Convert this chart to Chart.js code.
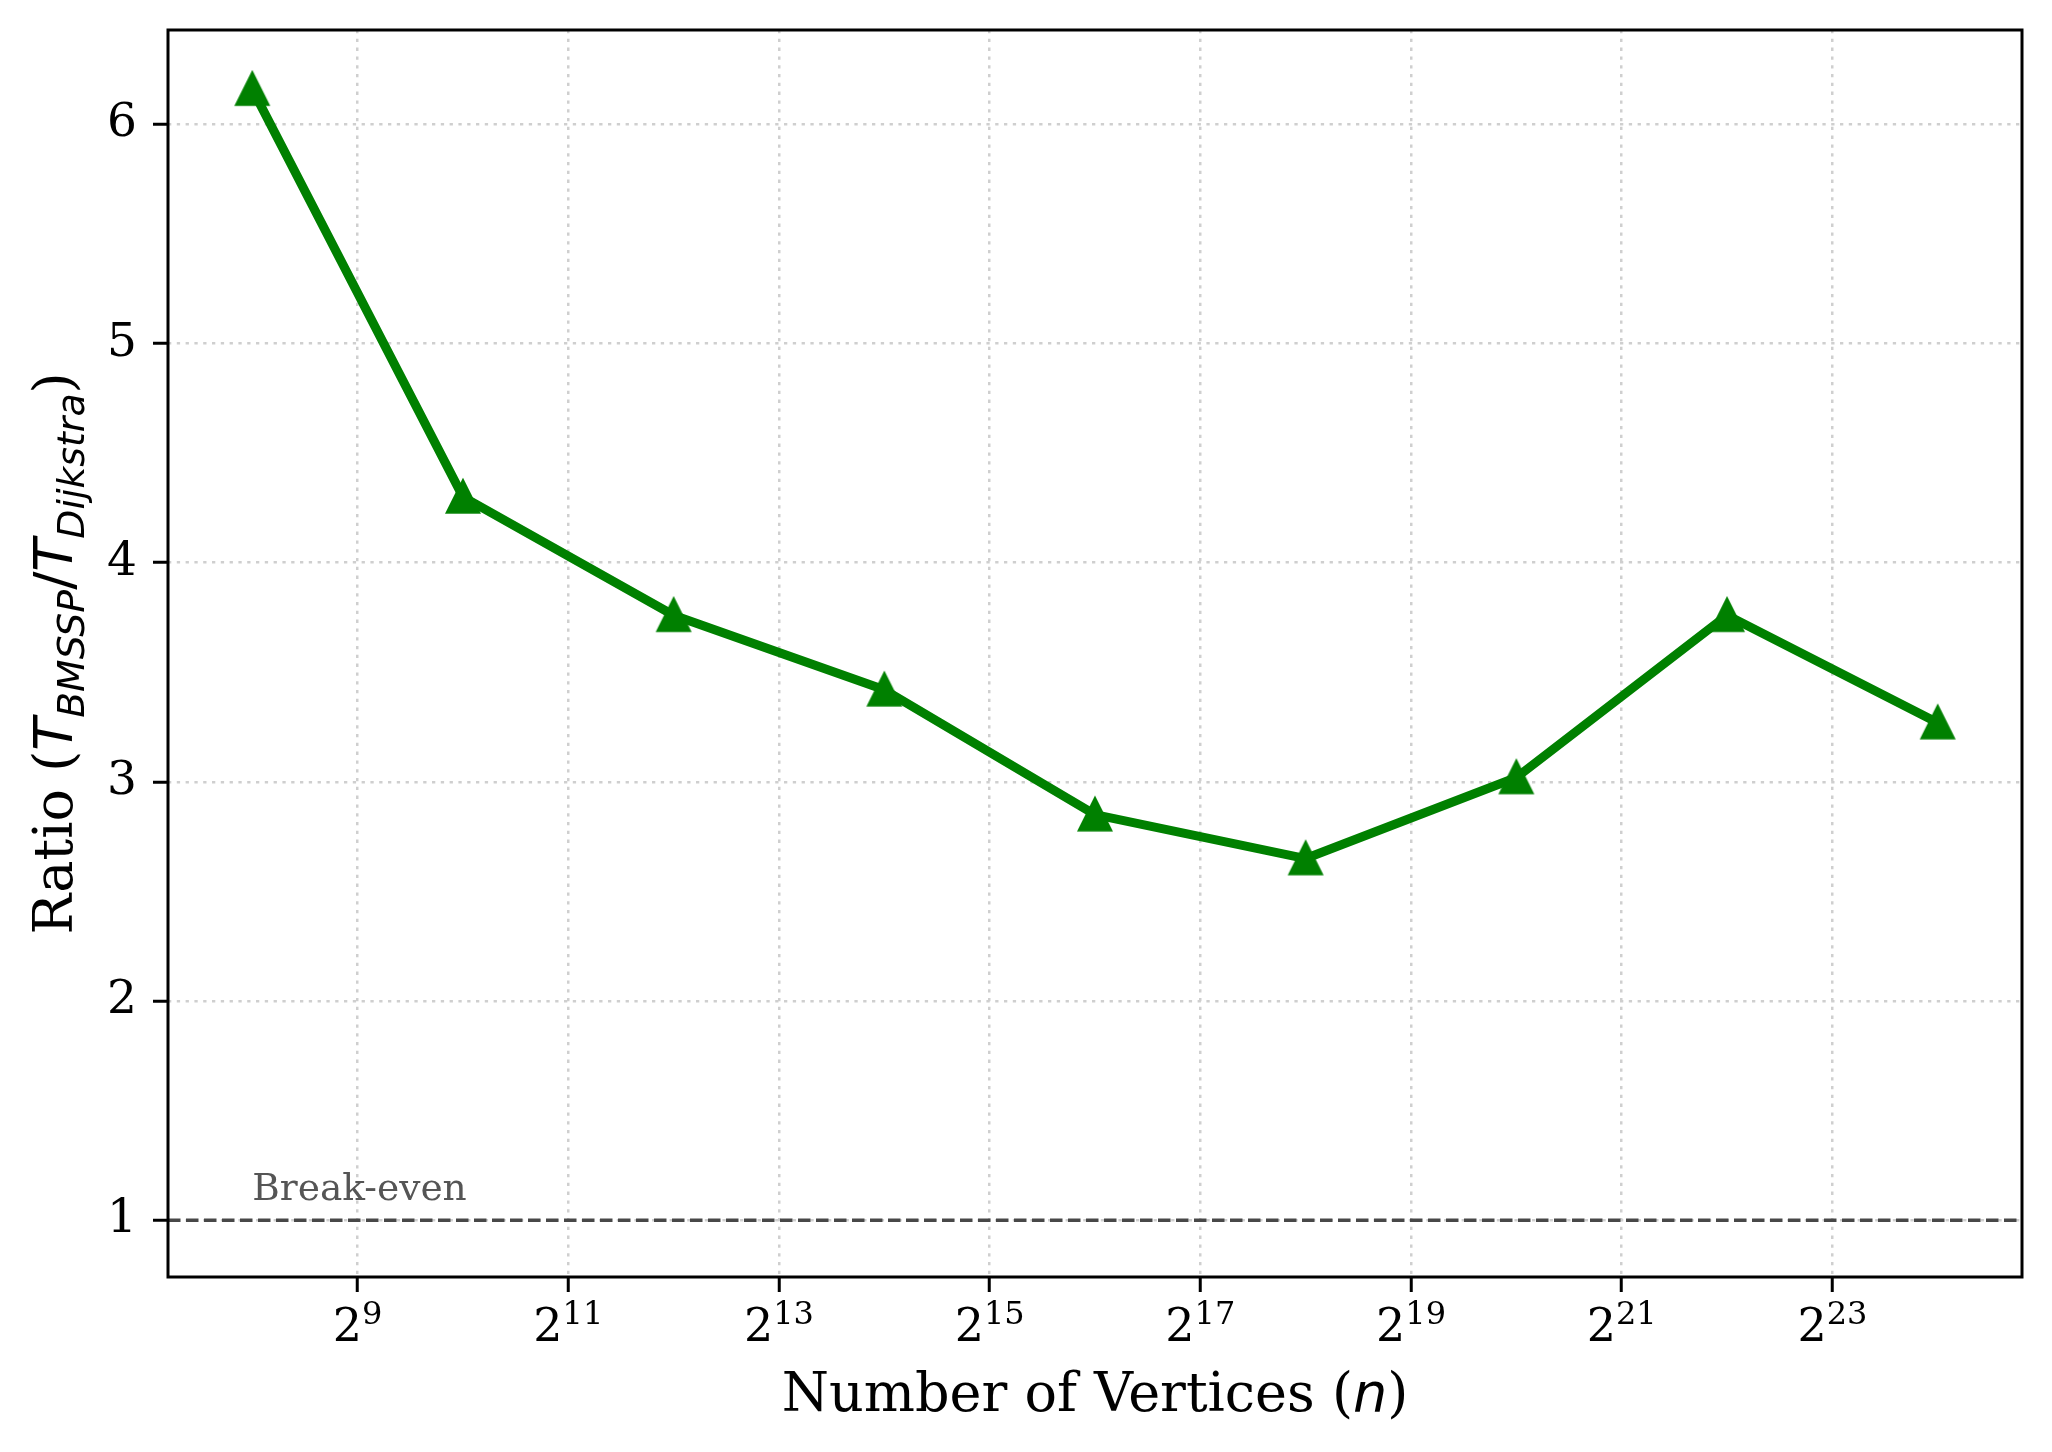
<!DOCTYPE html>
<html lang="en">
<head>
  <meta charset="UTF-8" />
  <title>BMSSP / Dijkstra ratio</title>
  <style>
    html, body { margin: 0; padding: 0; background: #fff; }
    #wrap { width: 2052px; height: 1452px; position: relative; }
  </style>
</head>
<body>
  <div id="wrap"><canvas id="ratioChart"></canvas></div>
  <script src="https://cdn.jsdelivr.net/npm/chart.js@4.4.1/dist/chart.umd.min.js"></script>
  <script>
    // data
    const vertexCounts = [256, 1024, 4096, 16384, 65536, 262144, 1048576, 4194304, 16777216];
    const ratios = [6.16, 4.30, 3.76, 3.42, 2.85, 2.65, 3.02, 3.76, 3.27];
    const xTickExponents = [9, 11, 13, 15, 17, 19, 21, 23];
    const yTickValues = [1, 2, 3, 4, 5, 6];
    const breakEven = 1;
    const breakEvenLabel = 'Break-even';
    const breakEvenLabelY = 1.05;
    const xRange = [2 ** 7.2, 2 ** 24.8];
    const yRange = [0.741, 6.43];

    const SERIF = "'DejaVu Serif', serif";
    const SANS = "'DejaVu Sans', sans-serif";
    const green = '#008000';

    // matplotlib "^" marker: as wide as it is tall
    const makeTriangle = () => {
      const c = document.createElement('canvas');
      c.width = 48;
      c.height = 48;
      const g = c.getContext('2d');
      const s = 14.6;
      g.beginPath();
      g.moveTo(24, 24 - s);
      g.lineTo(24 - s, 24 + s);
      g.lineTo(24 + s, 24 + s);
      g.closePath();
      g.fillStyle = green;
      g.fill();
      g.lineWidth = 4.2;
      g.lineJoin = 'miter';
      g.strokeStyle = green;
      g.stroke();
      return c;
    };

    // draw a row of text pieces with their own fonts / vertical offsets
    const drawRuns = (ctx, runs, x, y, align) => {
      let total = 0;
      runs.forEach((r) => {
        ctx.font = r.font;
        r.w = ctx.measureText(r.text).width;
        total += r.w;
      });
      let cx = align === 'center' ? x - total / 2 : x;
      runs.forEach((r) => {
        ctx.font = r.font;
        ctx.fillText(r.text, cx, y + (r.dy || 0));
        cx += r.w;
      });
    };

    const decorations = {
      id: 'decorations',
      beforeDatasetsDraw(chart) {
        const { ctx, chartArea: a, scales: { x, y } } = chart;
        const py = y.getPixelForValue(breakEven);
        ctx.save();
        ctx.strokeStyle = '#484848';
        ctx.lineWidth = 3.5;
        ctx.setLineDash([12.5, 5.5]);
        ctx.beginPath();
        ctx.moveTo(a.left, py);
        ctx.lineTo(a.right, py);
        ctx.stroke();
        ctx.setLineDash([]);

        ctx.fillStyle = '#555';
        ctx.textAlign = 'left';
        ctx.textBaseline = 'alphabetic';
        ctx.font = `37.5px ${SERIF}`;
        ctx.fillText(breakEvenLabel, x.getPixelForValue(vertexCounts[0]), y.getPixelForValue(breakEvenLabelY) - 9);
        ctx.restore();
      },
      afterDraw(chart) {
        const { ctx, chartArea: a, scales: { x } } = chart;
        ctx.save();
        ctx.strokeStyle = '#000';
        ctx.lineWidth = 3;
        ctx.strokeRect(a.left, a.top, a.right - a.left, a.bottom - a.top);

        ctx.fillStyle = '#000';
        ctx.textAlign = 'left';
        ctx.textBaseline = 'alphabetic';

        xTickExponents.forEach((e) => {
          drawRuns(ctx, [
            { text: '2', font: `46px ${SERIF}` },
            { text: String(e), font: `32px ${SERIF}`, dy: -17 }
          ], x.getPixelForValue(2 ** e), a.bottom + 64, 'center');
        });

        drawRuns(ctx, [
          { text: 'Number of Vertices (', font: `54px ${SERIF}` },
          { text: 'n', font: `italic 54px ${SANS}` },
          { text: ')', font: `54px ${SERIF}` }
        ], (a.left + a.right) / 2, a.bottom + 134, 'center');

        ctx.translate(72, (a.top + a.bottom) / 2);
        ctx.rotate(-Math.PI / 2);
        drawRuns(ctx, [
          { text: 'Ratio (', font: `54px ${SERIF}` },
          { text: 'T', font: `italic 54px ${SANS}` },
          { text: 'BMSSP', font: `italic 37.8px ${SANS}`, dy: 12 },
          { text: '/', font: `54px ${SANS}` },
          { text: 'T', font: `italic 54px ${SANS}` },
          { text: 'Dijkstra', font: `italic 37.8px ${SANS}`, dy: 12 },
          { text: ')', font: `54px ${SERIF}` }
        ], 0, 0, 'center');
        ctx.restore();
      }
    };

    const gridOpts = {
      color: '#cfcfcf',
      lineWidth: 2.5,
      tickColor: '#000',
      tickWidth: 3,
      tickLength: 15,
      tickBorderDash: []
    };

    new Chart(document.getElementById('ratioChart'), {
      type: 'line',
      data: {
        datasets: [{
          data: vertexCounts.map((n, i) => ({ x: n, y: ratios[i] })),
          borderColor: green,
          backgroundColor: green,
          borderWidth: 9,
          borderJoinStyle: 'round',
          tension: 0,
          fill: false,
          clip: false,
          pointStyle: makeTriangle(),
          pointRadius: 18,
          pointHoverRadius: 18
        }]
      },
      options: {
        responsive: true,
        maintainAspectRatio: false,
        animation: false,
        events: [],
        layout: { padding: { left: 0, top: 30, right: 30, bottom: 0 } },
        plugins: { legend: { display: false }, tooltip: { enabled: false } },
        scales: {
          x: {
            type: 'logarithmic',
            min: xRange[0],
            max: xRange[1],
            afterBuildTicks: (s) => { s.ticks = xTickExponents.map((e) => ({ value: 2 ** e })); },
            afterFit: (s) => { s.height = 175; },
            ticks: { display: false, autoSkip: false },
            grid: gridOpts,
            border: { display: false, dash: [3.3, 5.5] }
          },
          y: {
            type: 'linear',
            min: yRange[0],
            max: yRange[1],
            afterBuildTicks: (s) => { s.ticks = yTickValues.map((v) => ({ value: v })); },
            afterFit: (s) => {
              s.width = 168;
              s.paddingTop = 0;
              s.paddingBottom = 0;
            },
            ticks: {
              color: '#000',
              padding: 16,
              autoSkip: false,
              font: { family: 'DejaVu Serif', size: 47 }
            },
            grid: gridOpts,
            border: { display: false, dash: [3.3, 5.5] }
          }
        }
      },
      plugins: [decorations]
    });
  </script>
</body>
</html>
